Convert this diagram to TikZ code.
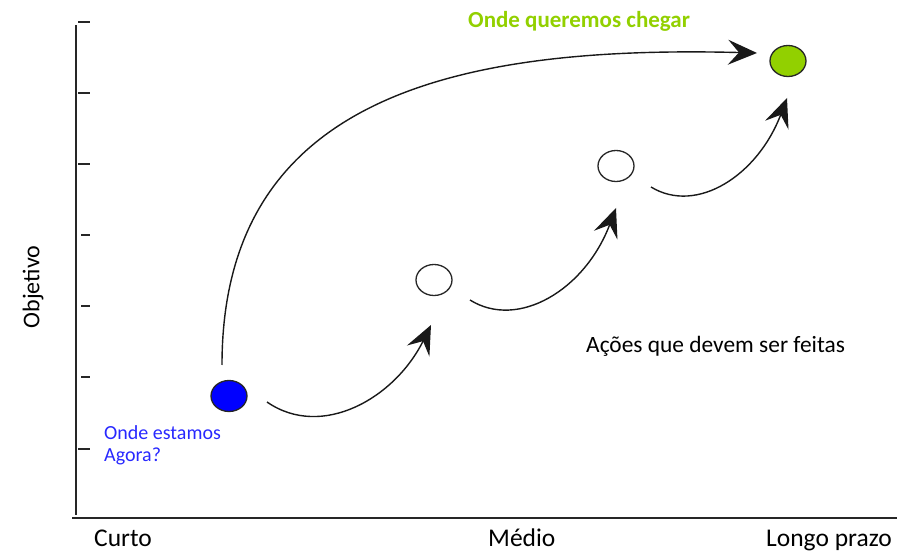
\documentclass[tikz,border=0pt]{standalone}
\usepackage{fontspec}
\setmainfont{Carlito}
\usetikzlibrary{arrows.meta}
\definecolor{goalgreen}{RGB}{146,208,0}
\definecolor{nowblue}{RGB}{0,0,255}
\definecolor{txtblue}{RGB}{40,40,255}
\tikzset{
  axisline/.style={line width=1.6pt, black!85},
  tickline/.style={line width=1.4pt, black!85},
  dot/.style={ellipse, draw=black!85, line width=1.3pt, minimum width=36pt, minimum height=31pt, inner sep=0pt},
  flow/.style={line width=1.4pt, black!90, -{Stealth[length=29pt, width=25pt, inset=11pt]}},
  lbl/.style={inner sep=0pt, font=\fontsize{24}{28}\selectfont},
}
\usetikzlibrary{shapes.geometric}
\begin{document}
\begin{tikzpicture}[x=1pt, y=-1pt]
\useasboundingbox (0,0) rectangle (922,553);
% axes
\coordinate (ytop) at (76,25);
\coordinate (ybot) at (76,515);
\coordinate (xl) at (72,518);
\coordinate (xr) at (897,518);
\draw[axisline] (ytop) -- (ybot);
\draw[axisline] (xl) -- (xr);
\foreach \yy/\xa in {22/78, 93/78, 164/78, 235/81, 306/81, 377/81, 449/78}
  \draw[tickline] (\xa,\yy) -- (90,\yy);
% dots
\node[dot, fill=nowblue] (b) at (229,396) {};
\node[dot, fill=white] (w1) at (434,280) {};
\node[dot, fill=white] (w2) at (616,166) {};
\node[dot, fill=goalgreen] (g) at (788,61) {};
% connectors
\coordinate (s0) at (222,365);
\coordinate (t0) at (757,53);
\draw[flow] (s0) .. controls (222,100) and (450,45) .. (t0);
\coordinate (s1) at (267,402);
\coordinate (t1) at (431,325);
\draw[flow] (s1) .. controls (322,440) and (395,398) .. (t1);
\coordinate (s2) at (470,300);
\coordinate (t2) at (616,208);
\draw[flow] (s2) .. controls (518,330) and (585,290) .. (t2);
\coordinate (s3) at (651,187);
\coordinate (t3) at (787,98);
\draw[flow] (s3) .. controls (697,215) and (758,175) .. (t3);
% texts
\node[lbl, anchor=west, text=goalgreen, font=\fontsize{23}{27}\selectfont\bfseries] (goal) at (468,21) {Onde queremos chegar};
\node[lbl, anchor=base west, text=txtblue, font=\fontsize{20}{22}\selectfont] (now1) at (104,440) {Onde estamos};
\node[lbl, anchor=base west, text=txtblue, font=\fontsize{20}{22}\selectfont] (now2) at (104,462) {Agora?};
\node[lbl, anchor=base west, font=\fontsize{23.4}{27}\selectfont] (acts) at (586,353) {Ações que devem ser feitas};
\node[lbl, anchor=base west, font=\fontsize{25.5}{30}\selectfont] (curto) at (94,547) {Curto};
\node[lbl, anchor=base west, font=\fontsize{25.5}{30}\selectfont] (medio) at (488,547) {Médio};
\node[lbl, anchor=base west, font=\fontsize{25.5}{30}\selectfont] (longo) at (766,547) {Longo prazo};
\node[lbl, rotate=90, font=\fontsize{24}{28}\selectfont] (obj) at (33,287) {Objetivo};
\end{tikzpicture}
\end{document}
